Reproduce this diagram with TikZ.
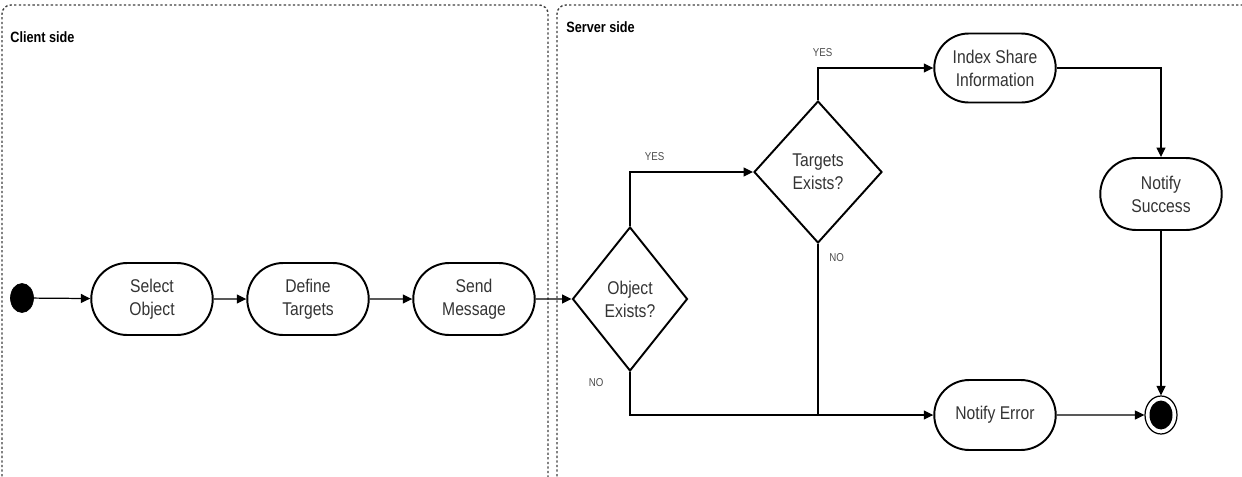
\documentclass[tikz,border=0pt]{standalone}
\usepackage{fontspec}
\setmainfont{Liberation Sans}[FakeStretch=0.85]
\usetikzlibrary{arrows.meta,positioning,shapes.misc,shapes.geometric}
\tikzset{
  act/.style={rounded rectangle,draw=black,line width=1.1pt,minimum width=2.5cm,
              minimum height=1.44cm,inner sep=1pt,align=center,
              font=\fontsize{10.5}{13}\selectfont,text=black!80},
  dec/.style={diamond,draw=black,line width=1.1pt,inner sep=0pt,align=center,
              font=\fontsize{10.5}{13}\selectfont,text=black!80},
  startst/.style={ellipse,fill=black,draw=black,minimum width=4.6mm,minimum height=5.8mm,inner sep=0pt},
  endout/.style={ellipse,draw=black,line width=0.7pt,minimum width=6.4mm,minimum height=7.6mm,inner sep=0pt},
  endin/.style={ellipse,fill=black,minimum width=4.6mm,minimum height=5.8mm,inner sep=0pt},
  flow/.style={-{Triangle[length=1.9mm,width=1.8mm]},line width=0.7pt},
  lane/.style={draw=black!75,dash pattern=on 1.3pt off 1.3pt,line width=0.8pt,rounded corners=5pt},
  lbl/.style={font=\fontsize{6.5}{7}\selectfont,text=black!70},
  title/.style={font=\bfseries\fontsize{8.5}{10}\selectfont,anchor=west,inner sep=0pt},
}
\begin{document}
\begin{tikzpicture}[x=0.02cm,y=-0.02cm]
  \useasboundingbox (0,0) rectangle (1242,477);
  % swim lanes
  \draw[lane] (2,490) -- (2,5) -- (548,5) -- (548,490);
  \draw[lane] (557,490) -- (557,5) -- (1260,5);
  \node[title] (client) at (10,37) {Client side};
  \node[title] (server) at (566,27) {Server side};
  % client side
  \node[startst] (start) at (22,298) {};
  \node[act] (sel) at (152,299) {Select\\Object};
  \node[act] (def) at (308,299) {Define\\Targets};
  \node[act] (send) at (474,299) {Send\\Message};
  % server side
  \node[dec,minimum width=2.3cm,minimum height=2.88cm] (objex) at (630,299) {Object\\Exists?};
  \node[dec,minimum width=2.56cm,minimum height=2.84cm] (tgtex) at (818,172) {Targets\\Exists?};
  \node[act,minimum height=1.38cm] (idx) at (995,68) {Index Share\\Information};
  \node[act] (suc) at (1161,194) {Notify\\Success};
  \node[act,minimum height=1.4cm] (err) at (995,415) {Notify Error};
  \node[endout] (end) at (1161,415) {};
  \node[endin] (endin) at (end) {};
  % flows
  \draw[flow] (start) -- (sel);
  \draw[flow] (sel) -- (def);
  \draw[flow] (def) -- (send);
  \draw[flow] (send) -- (objex.west);
  \draw[flow] (objex.north) |- node[lbl,pos=0.6,above=1mm] {YES} (tgtex.west);
  \draw[flow] (tgtex.north) |- node[lbl,pos=0.52,above=1mm] {YES} (idx.west);
  \draw[flow] (idx.east) -| (suc.north);
  \draw[flow] (suc.south) -- (end.north);
  \draw[flow] (objex.south) |- node[lbl,pos=0.12,left=4mm] {NO} (err.west);
  \draw[line width=0.7pt] (tgtex.south) -- node[lbl,pos=0.08,right=1mm] {NO} (tgtex.south |- err.west);
  \draw[flow] (err) -- (end.west);
\end{tikzpicture}
\end{document}
